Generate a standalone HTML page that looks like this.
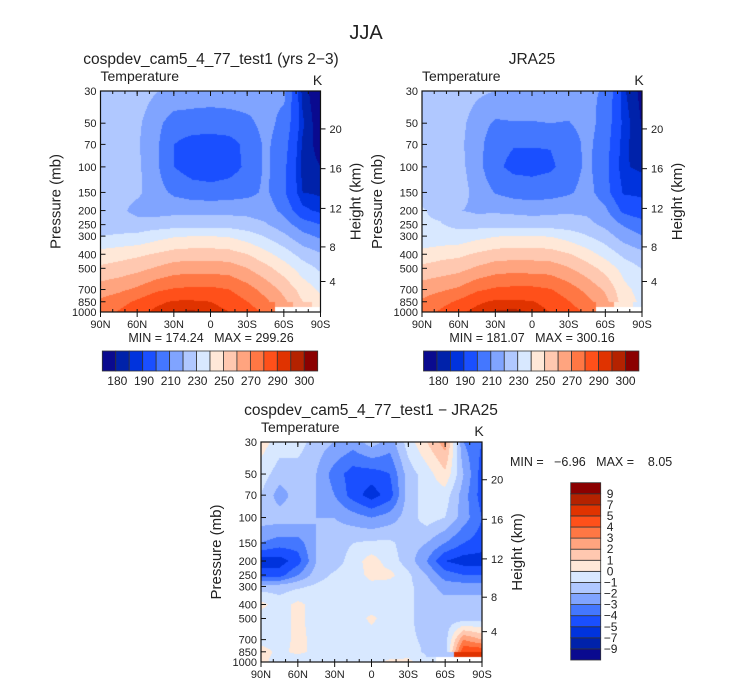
<!DOCTYPE html>
<html><head><meta charset="utf-8">
<style>
html,body{margin:0;padding:0;background:#fff;}
#wrap{position:relative;width:733px;height:686px;overflow:hidden;font-family:"Liberation Sans",sans-serif;}
canvas{position:absolute;}
svg{position:absolute;left:0;top:0;}
text{font-family:"Liberation Sans",sans-serif;fill:#222;}
</style></head>
<body>
<div id="wrap">
<canvas id="cL"></canvas>
<canvas id="cR"></canvas>
<canvas id="cD"></canvas>
<svg id="sv" width="733" height="686">
<text x="366" y="39" font-size="20" text-anchor="middle">JJA</text>
<text x="211" y="64" font-size="15.5" text-anchor="middle">cospdev_cam5_4_77_test1 (yrs 2−3)</text>
<text x="532" y="64" font-size="15.5" text-anchor="middle">JRA25</text>
<text x="371" y="415" font-size="15.5" text-anchor="middle">cospdev_cam5_4_77_test1 − JRA25</text>
<text x="211" y="342" font-size="12.5" text-anchor="middle" xml:space="preserve">MIN = 174.24   MAX = 299.26</text>
<text x="532" y="342" font-size="12.5" text-anchor="middle" xml:space="preserve">MIN = 181.07   MAX = 300.16</text>
<text x="510" y="466" font-size="12.5" xml:space="preserve">MIN =   −6.96   MAX =    8.05</text>
</svg>
</div>
<script>
// ---- data ----
const lats = [90,75,60,45,30,15,0,-15,-30,-45,-60,-75,-90];
const pressures = [30,50,70,100,150,200,250,300,400,500,700,850,1000];
const tempLevels = [180,185,190,200,210,220,230,240,250,260,270,280,290,295,300];
const tempLabels = [180,190,210,230,250,270,290,300];
const diffLevels = [-9,-7,-5,-4,-3,-2,-1,0,1,2,3,4,5,7,9];
const N = NaN;
const modelT = [
 [228,227,225,220.5,218,216,215,215,215,212,212,183,174],
 [226,225,222,213,205,205,205,206,208,213,207,186,175],
 [226,225,221,212,200,196,195,196,203,212,204,184,177],
 [226,225,222,212,200,195,194,196,202,212,202,183,180],
 [225,224,222,214,208,205,204,205,207,212,201,185,184],
 [225,223,216,216,217,217,217,217,217,215,207,192,188],
 [226,226,225,225,226,226,226,226,224,221,214,205,200],
 [230,231,232,236,239,240,240,239,235,229,222,213,208],
 [244,246,248,251,254,255,255,254,250,243,235,226,221],
 [252,254,257,261,265,266,266,265,260,253,245,235,228],
 [265,268,272,278,281,282,282,280,274,266,257,246,238],
 [272,276,282,288,291,291,290,286,280,272,262,250,243],
 [276,281,287,292,295,296,294,290,285,278,N,N,N]
];
const diffT = [
 [0.5,-0.5,-0.5,-1.5,-2,-2.5,-1.5,-2.5,-0.5,1,2.5,-3,-4],
 [-0.5,-1.5,-1.5,-2,-3.5,-4.5,-4.5,-4,-1.5,-0.5,0.8,-2,-4.5],
 [-1,-2.5,-1.5,-2,-3,-4.5,-5.5,-4.5,-1.5,-0.5,-0.5,-2.5,-4.5],
 [-1.5,-1.5,-1.5,-2,-2,-2.5,-3,-2.5,-1.5,-0.5,-1,-2.5,-4],
 [-3,-3.5,-3.5,-2,-1.5,-1,-0.8,-0.8,-1.5,-2,-3,-4,-4.5],
 [-5.5,-5.5,-4.5,-2,-1.5,-0.5,0.5,-0.5,-1.5,-3,-5,-5.5,-5.5],
 [-4.5,-4.5,-3,-1.5,-0.8,-0.5,0.3,0.3,-0.8,-2,-3.5,-4,-4],
 [-1.5,-1.5,-1.2,-0.8,-0.5,-0.5,-0.3,-0.5,-0.8,-1.5,-2.5,-2.5,-2.5],
 [0.3,-0.5,0.3,-0.5,-0.5,-0.5,-0.5,-0.5,-0.8,-1.5,-1.5,-1.5,-1.5],
 [-0.5,-0.5,0.3,-0.5,-0.5,-0.5,0.2,-0.5,-0.8,-1.5,-1.5,-1.5,-1.5],
 [-0.5,-0.5,0.3,-0.3,-0.5,-0.5,-0.5,-0.5,-0.8,-1.2,-1.5,3,2],
 [0.5,-0.3,0.3,-0.3,-0.5,-0.5,-0.5,-0.8,-0.5,-1.2,-1.5,5,5],
 [0.3,-0.5,-1,-1,-0.5,-0.5,-0.5,0.3,0.3,-0.8,N,N,N]
];
const obsT = modelT.map((row,i)=>row.map((v,j)=>v-diffT[i][j]));
const pressureTicks = [30,50,70,100,150,200,250,300,400,500,700,850,1000];
const heightTicks = [4,8,12,16,20];
const latTicks = [90,60,30,0,-30,-60,-90];
const latTickLabels = ['90N','60N','30N','0','30S','60S','90S'];
const colors = ['#0a0a8f','#0022aa','#0033dd','#1a4fff','#4477ff','#80a4ff','#b0c8ff','#d8e8ff','#ffe8d8','#ffc8b0','#ffa47f','#ff7744','#ff501a','#e03300','#b42200','#8b0000'];

const NS='http://www.w3.org/2000/svg';
const sv=document.getElementById('sv');
function mk(tag,attrs,parent){const e=document.createElementNS(NS,tag);for(const k in attrs)e.setAttribute(k,attrs[k]);(parent||sv).appendChild(e);return e;}
function rgb(h){return [parseInt(h.substr(1,2),16),parseInt(h.substr(3,2),16),parseInt(h.substr(5,2),16)];}
const cols=colors.map(rgb);
const LP0=Math.log(30),LP1=Math.log(1000);
function yOf(P,p){return P.y+(Math.log(p)-LP0)/(LP1-LP0)*P.h;}
function xOf(P,lat){return P.x+(90-lat)/180*P.w;}
function hToP(zkm){const z=zkm*1000;if(z<=11000)return 1013.25*Math.pow(1-0.0065*z/288.15,5.2559);return 226.32*Math.exp(-(z-11000)*9.80665/(287.05*216.65));}
const lpArr=pressures.map(p=>Math.log(p));
function sample(grid,lat,lp){
  let fi=(90-lat)/15; let i0=Math.min(11,Math.max(0,Math.floor(fi))); let tx=fi-i0;
  let j0=0; while(j0<11 && lp>lpArr[j0+1]) j0++;
  let ty=(lp-lpArr[j0])/(lpArr[j0+1]-lpArr[j0]);
  const a=grid[j0][i0],b=grid[j0][i0+1],c=grid[j0+1][i0],d=grid[j0+1][i0+1];
  if(isNaN(a)||isNaN(b)||isNaN(c)||isNaN(d)){
    const nv=grid[ty<0.5?j0:j0+1][tx<0.5?i0:i0+1]; return nv;
  }
  return (a*(1-tx)+b*tx)*(1-ty)+(c*(1-tx)+d*tx)*ty;
}
function render(id,P,grid,levels){
  const cv=document.getElementById(id);
  cv.width=P.w;cv.height=P.h;cv.style.left=P.x+'px';cv.style.top=P.y+'px';
  const ctx=cv.getContext('2d');const im=ctx.createImageData(P.w,P.h);
  for(let py=0;py<P.h;py++){const lp=LP0+(py+0.5)/P.h*(LP1-LP0);
    for(let px=0;px<P.w;px++){const lat=90-(px+0.5)/P.w*180;
      const v=sample(grid,lat,lp);const k=(py*P.w+px)*4;
      let c=[255,255,255];
      if(!isNaN(v)){let ci=0;while(ci<levels.length&&v>=levels[ci])ci++;c=cols[ci];}
      im.data[k]=c[0];im.data[k+1]=c[1];im.data[k+2]=c[2];im.data[k+3]=255;}}
  ctx.putImageData(im,0,0);
}
function axes(P,pre){
  const g=mk('g',{});
  
  
  const fr=mk('rect',{x:P.x,y:P.y,width:P.w,height:P.h,fill:'none',stroke:'#111','stroke-width':1.2},g);
  
  
  for(let lat=90;lat>=-90;lat-=10){const x=xOf(P,lat);
    mk('line',{x1:x,x2:x,y1:P.y,y2:P.y+3,stroke:'#111'},g);
    mk('line',{x1:x,x2:x,y1:P.y+P.h,y2:P.y+P.h-3,stroke:'#111'},g);}
  latTicks.forEach((lat,i)=>{const x=xOf(P,lat);
    mk('line',{x1:x,x2:x,y1:P.y+P.h,y2:P.y+P.h+5,stroke:'#111'},g);
    mk('line',{x1:x,x2:x,y1:P.y,y2:P.y+5,stroke:'#111'},g);
    const t=mk('text',{x:x,y:P.y+P.h+16,'font-size':11,'text-anchor':'middle'},g);t.textContent=latTickLabels[i];
    
    });
  pressureTicks.forEach(p=>{const y=yOf(P,p);
    mk('line',{x1:P.x,x2:P.x+5,y1:y,y2:y,stroke:'#111'},g);
    const t=mk('text',{x:P.x-4,y:y+4,'font-size':11,'text-anchor':'end'},g);t.textContent=p;
    
    });
  heightTicks.forEach(h=>{const y=yOf(P,hToP(h));
    mk('line',{x1:P.x+P.w,x2:P.x+P.w+5,y1:y,y2:y,stroke:'#111'},g);
    const t=mk('text',{x:P.x+P.w+9,y:y+4,'font-size':11},g);t.textContent=h;
    
    });
  const yt=mk('text',{x:0,y:0,'font-size':15,'text-anchor':'middle',transform:`translate(${P.x-40},${P.y+P.h/2}) rotate(-90)`},g);yt.textContent='Pressure (mb)';
  
  
  const rt=mk('text',{x:0,y:0,'font-size':15,'text-anchor':'middle',transform:`translate(${P.x+P.w+40},${P.y+P.h/2}) rotate(-90)`},g);rt.textContent='Height (km)';
  
  
  const vt=mk('text',{x:P.x,y:P.y-10,'font-size':14},g);vt.textContent='Temperature';
  
  
  const ut=mk('text',{x:P.x+P.w-3,y:P.y-6,'font-size':14,'text-anchor':'middle'},g);ut.textContent='K';
  
  
}
function hbar(x0,y0,w,h,pre){
  const bw=w/colors.length;
  colors.forEach((c,i)=>{const r=mk('rect',{x:x0+i*bw,y:y0,width:bw,height:h,fill:c,stroke:'#333','stroke-width':0.8});
    
    });
  tempLabels.forEach((v,i)=>{const t=mk('text',{x:x0+15+i*26.72,y:y0+h+14,'font-size':12,'text-anchor':'middle'});t.textContent=v;
    
    });
}
function vbar(x0,y0,w,h,pre){
  const bh=h/colors.length;
  colors.forEach((c,i)=>{const r=mk('rect',{x:x0,y:y0+h-(i+1)*bh,width:w,height:bh,fill:c,stroke:'#333','stroke-width':0.8});
    
    });
  diffLevels.forEach((v,i)=>{const y=y0+h-(i+1)*bh;
    const t=mk('text',{x:x0+w+(v<0?3:6),y:y+4,'font-size':12});t.textContent=(v<0?'−'+(-v):v);
    
    });
}
const PL={x:100.5,y:91,w:220,h:221},PR={x:422,y:91,w:220,h:221},PD={x:261,y:442,w:221,h:220};
render('cL',PL,modelT,tempLevels);
render('cR',PR,obsT,tempLevels);
render('cD',PD,diffT,diffLevels);
axes(PL,'model');axes(PR,'obs');axes(PD,'diff');
hbar(102.3,351,215.4,20,'model');
hbar(423.5,351,215.4,20,'obs');
vbar(570.7,482.7,30,177.3,'diff');
</script>
</body></html>
